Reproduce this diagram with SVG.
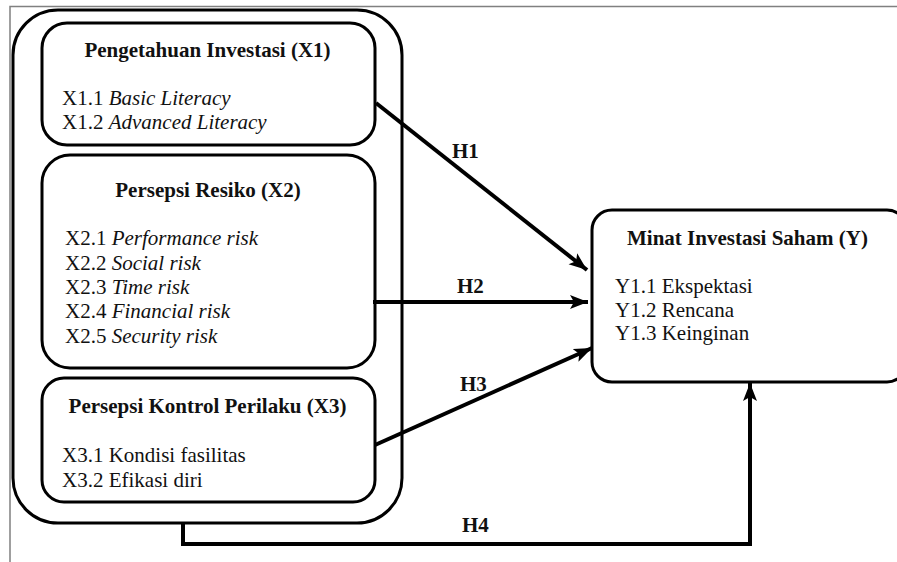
<svg xmlns="http://www.w3.org/2000/svg" width="897" height="562" viewBox="0 0 897 562">
<style>
.box{fill:#fff;stroke:#000;stroke-width:3}
.frame{fill:none;stroke:#808080;stroke-width:1.5}
.t{font-family:"Liberation Serif","Times New Roman",serif;font-size:21px;fill:#111}
.h{font-weight:bold}
.i{font-style:italic}
.c{text-anchor:middle}
.con{fill:none;stroke:#000;stroke-width:4}
.lbl{font-family:"Liberation Serif","Times New Roman",serif;font-size:21px;font-weight:bold;fill:#111}
</style>
<defs>
<marker id="ah" markerUnits="userSpaceOnUse" markerWidth="20" markerHeight="16" refX="18" refY="8" orient="auto">
<path d="M0,1 L18,8 L0,15 L4,8 Z" fill="#000"/>
</marker>
</defs>
<rect width="897" height="562" fill="#fff"/>
<path class="frame" d="M10,562 V6.5 H897"/>

<g id="outer">
<rect class="box" x="13" y="10" width="389" height="513" rx="45" ry="45"/>
</g>

<g id="x1">
<rect class="box" x="42" y="23" width="333" height="122" rx="25" ry="25"/>
<text class="t h c" x="207.5" y="57">Pengetahuan Investasi (X1)</text>
<text class="t" x="62" y="105">X1.1 <tspan class="i">Basic Literacy</tspan></text>
<text class="t" x="62" y="129">X1.2 <tspan class="i">Advanced Literacy</tspan></text>
</g>

<g id="x2">
<rect class="box" x="42" y="155" width="333" height="213" rx="28" ry="28"/>
<text class="t h c" x="208" y="197">Persepsi Resiko (X2)</text>
<text class="t" x="65" y="245">X2.1 <tspan class="i">Performance risk</tspan></text>
<text class="t" x="65" y="270">X2.2 <tspan class="i">Social risk</tspan></text>
<text class="t" x="65" y="294">X2.3 <tspan class="i">Time risk</tspan></text>
<text class="t" x="65" y="318">X2.4 <tspan class="i">Financial risk</tspan></text>
<text class="t" x="65" y="343">X2.5 <tspan class="i">Security risk</tspan></text>
</g>

<g id="x3">
<rect class="box" x="42" y="378" width="333" height="124" rx="22" ry="22"/>
<text class="t h c" x="207.5" y="413">Persepsi Kontrol Perilaku (X3)</text>
<text class="t" x="62" y="462">X3.1 Kondisi fasilitas</text>
<text class="t" x="62" y="487">X3.2 Efikasi diri</text>
</g>

<g id="y">
<rect class="box" x="592" y="210" width="315" height="172" rx="20" ry="20"/>
<text class="t h" x="627" y="245">Minat Investasi Saham (Y)</text>
<text class="t" x="615" y="293">Y1.1 Ekspektasi</text>
<text class="t" x="615" y="317">Y1.2 Rencana</text>
<text class="t" x="615" y="340">Y1.3 Keinginan</text>
</g>

<g id="connectors">
<line class="con" x1="376" y1="103" x2="587" y2="270" marker-end="url(#ah)"/>
<line class="con" x1="373" y1="302" x2="588" y2="302" marker-end="url(#ah)"/>
<line class="con" x1="375" y1="445" x2="592" y2="348" marker-end="url(#ah)"/>
<polyline class="con" points="183,523 183,544 750,544 750,383" stroke-width="3.5" marker-end="url(#ah)"/>
<text class="lbl" x="452" y="158">H1</text>
<text class="lbl" x="457" y="293">H2</text>
<text class="lbl" x="460" y="391">H3</text>
<text class="lbl" x="462" y="532">H4</text>
</g>
</svg>
